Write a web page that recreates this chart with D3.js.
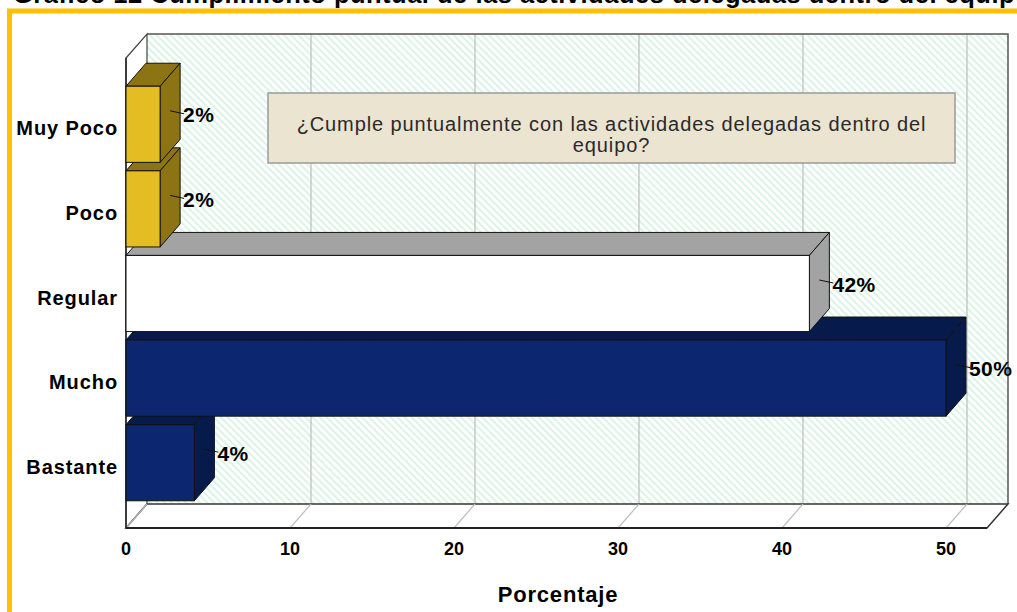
<!DOCTYPE html>
<html>
<head>
<meta charset="utf-8">
<script src="https://cdn.jsdelivr.net/npm/d3@7"></script>
<style>
	body { margin: 0; background: #fff; }
	text { font-family: "Liberation Sans", Arial, sans-serif; }
</style>
</head>
<body>
<svg id="chart" width="1017" height="612"></svg>
<script>
let categories = ['Muy Poco', 'Poco', 'Regular', 'Mucho', 'Bastante'];
let values = [2.08, 2.08, 41.67, 50.0, 4.17];
let value_labels = ['2%', '2%', '42%', '50%', '4%'];
let front_colors = ['#e3bd22', '#e3bd22', '#ffffff', '#0c2670', '#0c2670'];
let side_colors = ['#8c7415', '#8c7415', '#a3a3a3', '#061a4c', '#061a4c'];
let x_ticks = [0, 10, 20, 30, 40, 50];
let title_text = 'Gráfico 12 Cumplimiento puntual de las actividades delegadas dentro del equipo';
let note_lines = ['¿Cumple puntualmente con las actividades delegadas dentro del', 'equipo?'];

let depth = {dx: 21, dy: -24},
	bar_depth = {dx: 20, dy: -23};
let plot = {left: 126, right: 987, top: 58, bottom: 528};

let svg = d3.select('#chart');

let x = d3.scaleLinear().domain([0, 52.5]).range([plot.left, plot.right]);
let y = d3.scaleBand().domain(categories).range([82, 505])
	.paddingInner(0.1).paddingOuter(0.05);

// hatch for the back wall
let defs = svg.append('defs');
defs.append('pattern')
	.attr('id', 'hatch')
	.attr('patternUnits', 'userSpaceOnUse')
	.attr('width', 5).attr('height', 5)
	.attr('patternTransform', 'rotate(-45)')
	.append('line')
	.attr('x1', 1).attr('x2', 1).attr('y1', 0).attr('y2', 5)
	.attr('stroke', '#d3f1df').attr('stroke-width', 1.6);

// title (cut at the top, as in the source) and frame
svg.append('text')
	.attr('x', 13).attr('y', 3)
	.style('font-size', '25.5px').style('font-weight', 'bold')
	.style('letter-spacing', '0.5px')
	.text(title_text);

svg.append('rect')
	.attr('x', 9.5).attr('y', 11)
	.attr('width', 1100).attr('height', 700)
	.attr('fill', 'none')
	.attr('stroke', '#ffc000').attr('stroke-width', 5);

let line = d3.line();
let bx0 = plot.left + depth.dx, bx1 = plot.right + depth.dx,
	by0 = plot.top + depth.dy, by1 = plot.bottom + depth.dy;

// back wall
svg.append('rect')
	.attr('x', bx0).attr('y', by0)
	.attr('width', bx1 - bx0).attr('height', by1 - by0)
	.attr('fill', 'url(#hatch)');

// grid on the back wall
svg.selectAll('.grid_back')
	.data(x_ticks.filter(d => d > 0))
	.enter().append('line')
	.attr('class', 'grid_back')
	.attr('x1', d => x(d) + depth.dx).attr('x2', d => x(d) + depth.dx)
	.attr('y1', by0).attr('y2', by1)
	.attr('stroke', '#bdbdbd').attr('stroke-width', 1.2);

svg.append('path')
	.attr('d', line([[bx0, by0], [bx1, by0], [bx1, by1]]))
	.attr('fill', 'none').attr('stroke', '#555').attr('stroke-width', 1.5);

// left wall
svg.append('path')
	.attr('d', line([[plot.left, plot.top], [bx0, by0], [bx0, by1], [plot.left, plot.bottom]]) + 'Z')
	.attr('fill', '#fff').attr('stroke', '#444').attr('stroke-width', 1.2);

// floor
svg.append('path')
	.attr('d', line([[plot.left, plot.bottom], [bx0, by1], [bx1, by1], [plot.right, plot.bottom]]) + 'Z')
	.attr('fill', '#fff').attr('stroke', '#333').attr('stroke-width', 1.5);

svg.selectAll('.grid_floor')
	.data(x_ticks)
	.enter().append('line')
	.attr('class', 'grid_floor')
	.attr('x1', d => x(d)).attr('y1', plot.bottom)
	.attr('x2', d => x(d) + depth.dx).attr('y2', by1)
	.attr('stroke', '#bdbdbd').attr('stroke-width', 1.2);

svg.append('line')
	.attr('x1', plot.left).attr('x2', plot.right)
	.attr('y1', plot.bottom).attr('y2', plot.bottom)
	.attr('stroke', '#222').attr('stroke-width', 2);
svg.append('line')
	.attr('x1', plot.left).attr('x2', plot.left)
	.attr('y1', plot.top).attr('y2', plot.bottom)
	.attr('stroke', '#222').attr('stroke-width', 1.5);

// note box
let note = svg.append('g');
note.append('rect')
	.attr('x', 268).attr('y', 93)
	.attr('width', 687).attr('height', 70)
	.attr('fill', '#ebe4d1').attr('stroke', '#9a9a9a').attr('stroke-width', 1.5);
note.selectAll('text')
	.data(note_lines)
	.enter().append('text')
	.attr('x', 611.5).attr('y', (d, i) => 131 + i * 21)
	.attr('text-anchor', 'middle')
	.style('font-size', '20px')
	.style('letter-spacing', '0.9px')
	.style('fill', '#2a2a2a')
	.text(d => d);

// bars: drawn bottom first so the upper ones cover them
let bars = categories.map((c, i) => ({cat: c, value: values[i], label: value_labels[i],
	front: front_colors[i], side: side_colors[i]})).reverse();

bars.forEach((d) => {
	let x0 = x(0), x1 = x(d.value),
		y0 = y(d.cat), y1 = y(d.cat) + y.bandwidth();
	let g = svg.append('g').attr('class', 'bar');
	// top
	g.append('path')
		.attr('d', line([[x0, y0], [x0 + bar_depth.dx, y0 + bar_depth.dy],
			[x1 + bar_depth.dx, y0 + bar_depth.dy], [x1, y0]]) + 'Z')
		.attr('fill', d.side).attr('stroke', '#111').attr('stroke-width', 1);
	// side
	g.append('path')
		.attr('d', line([[x1, y0], [x1 + bar_depth.dx, y0 + bar_depth.dy],
			[x1 + bar_depth.dx, y1 + bar_depth.dy], [x1, y1]]) + 'Z')
		.attr('fill', d.side).attr('stroke', '#111').attr('stroke-width', 1);
	// front
	g.append('rect')
		.attr('x', x0).attr('y', y0)
		.attr('width', x1 - x0).attr('height', y1 - y0)
		.attr('fill', d.front).attr('stroke', '#111').attr('stroke-width', 1);

	let ly = (y0 + y1) / 2 + bar_depth.dy / 2;
	g.append('line')
		.attr('x1', x1 + bar_depth.dx / 2).attr('x2', x1 + bar_depth.dx + 4)
		.attr('y1', ly - 2).attr('y2', ly + 1)
		.attr('stroke', '#111').attr('stroke-width', 1);
	g.append('text')
		.attr('x', x1 + bar_depth.dx + 3).attr('y', ly + 2)
		.attr('dominant-baseline', 'central')
		.style('font-size', '21px').style('font-weight', 'bold')
		.style('letter-spacing', '0.4px')
		.text(d.label);
});

// category labels
svg.selectAll('.cat_label')
	.data(categories)
	.enter().append('text')
	.attr('class', 'cat_label')
	.attr('x', 118)
	.attr('y', d => y(d) + y.bandwidth() / 2 + 4)
	.attr('text-anchor', 'end')
	.attr('dominant-baseline', 'central')
	.style('font-size', '20px').style('font-weight', 'bold')
	.style('letter-spacing', '0.9px')
	.text(d => d);

// x tick labels
svg.selectAll('.tick_label')
	.data(x_ticks)
	.enter().append('text')
	.attr('class', 'tick_label')
	.attr('x', d => x(d))
	.attr('y', 549)
	.attr('text-anchor', 'middle')
	.attr('dominant-baseline', 'central')
	.style('font-size', '18px').style('font-weight', 'bold')
	.text(d => d);

svg.append('text')
	.attr('x', 558).attr('y', 594)
	.attr('text-anchor', 'middle')
	.attr('dominant-baseline', 'central')
	.style('font-size', '22px').style('font-weight', 'bold')
	.style('letter-spacing', '0.8px')
	.text('Porcentaje');
</script>
</body>
</html>
